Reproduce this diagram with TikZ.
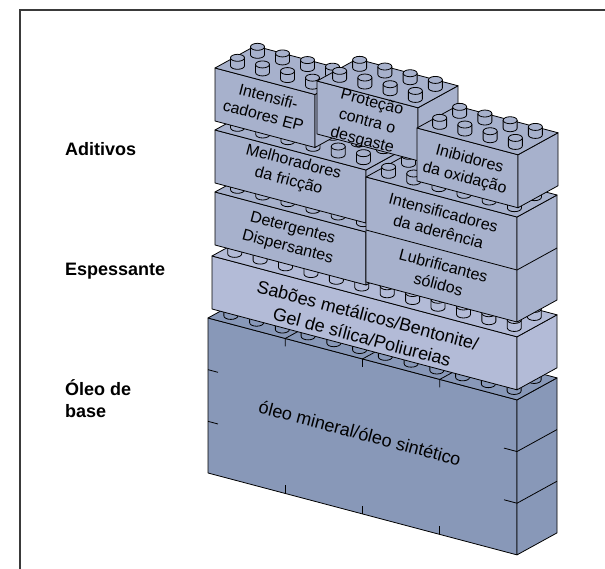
\documentclass[tikz,border=0pt]{standalone}
\usepackage{fontspec}
\setmainfont{Liberation Sans}
\definecolor{addc}{HTML}{A7B1CC}
\definecolor{espc}{HTML}{B3BBD7}
\definecolor{basec}{HTML}{8898B8}
\definecolor{framec}{HTML}{3A3A3A}
\newcommand\slp{0.265}
\newcommand\ddx{40}
\newcommand\ddy{-22}
\tikzset{
  brick/.style={draw=black, line width=0.8pt, line join=round},
  lbl/.style={font=\fontsize{16}{19.5}\selectfont, align=center, rotate=-14.8, inner sep=0pt},
  biglbl/.style={font=\fontsize{18}{22.5}\selectfont, align=center, rotate=-14.8, inner sep=0pt},
  sidelbl/.style={font=\bfseries\fontsize{18}{22}\selectfont, align=left, anchor=west, inner sep=0pt}
}
% brick: x0, y0 (front top left), width, height, colour
\newcommand\lgbrick[5]{%
  \pgfmathsetmacro\bxa{#1}%
  \pgfmathsetmacro\bya{#2}%
  \pgfmathsetmacro\bxb{#1+#3}%
  \pgfmathsetmacro\byb{#2+#3*\slp}%
  \pgfmathsetmacro\byc{#2+#4}%
  \pgfmathsetmacro\byd{#2+#3*\slp+#4}%
  \filldraw[brick,fill=#5] (\bxa,\bya) -- (\bxb,\byb) -- (\bxb,\byd) -- (\bxa,\byc) -- cycle;
  \filldraw[brick,fill=#5] (\bxb,\byb) -- ++(\ddx,\ddy) -- ++(0,#4) -- (\bxb,\byd) -- cycle;
  \filldraw[brick,fill=#5] (\bxa,\bya) -- ++(\ddx,\ddy) -- ++(#3,#3*\slp) -- (\bxb,\byb) -- cycle;
}
\newcommand\lgstud[3]{%
  \filldraw[brick,fill=#3] (#1-7,#2-8) -- (#1-7,#2) arc[start angle=180,end angle=360,x radius=7pt,y radius=3.5pt] -- (#1+7,#2-8) -- cycle;
  \filldraw[brick,fill=#3] (#1,#2-8) ellipse[x radius=7pt,y radius=3.5pt];
}
% studs: x0, y0, width, number, colour
\newcommand\lgstuds[5]{%
  \pgfmathsetmacro\lgp{#3/#4}%
  \pgfmathtruncatemacro\lgn{#4-1}%
  \foreach \rr in {1,0}{%
    \foreach \ii in {0,...,\lgn}{%
      \pgfmathsetmacro\lgcx{#1+\lgp*(\ii+0.5)+(\rr+0.5)*20}%
      \pgfmathsetmacro\lgcy{#2+\lgp*(\ii+0.5)*\slp-(\rr+0.5)*11}%
      \lgstud{\lgcx}{\lgcy}{#5}%
    }%
  }%
}
\begin{document}
\begin{tikzpicture}[x=1pt,y=-1pt]
\useasboundingbox (0,0) rectangle (605,569);
% frame
\draw[framec, line width=1.6pt] (20,569) -- (20,10) -- (605,10);

% base block
\lgbrick{208}{318}{309}{155}{basec}
\foreach \k in {1,2,3}{
  \pgfmathsetmacro\tx{208+309*\k/4}
  \pgfmathsetmacro\ty{318+309*\k/4*\slp}
  \draw[brick] (\tx,\ty+8) -- (\tx,\ty) -- ++(40,-22);
  \draw[brick] (\tx,\ty+155) -- (\tx,\ty+147);
}
\foreach \k in {1,2}{
  \pgfmathsetmacro\ty{318+155*\k/3}
  \draw[brick] (208,\ty) -- (218,\ty+2.65);
  \pgfmathsetmacro\tyr{318+309*\slp+155*\k/3}
  \draw[brick] (504,\tyr-3.45) -- (517,\tyr) -- ++(40,-22);
}
\lgstuds{208}{318}{309}{12}{basec}

% thickener
\lgbrick{212}{256}{305}{53}{espc}
\lgstuds{212}{256}{305}{12}{espc}

% additives, lower layer
\lgbrick{215}{192}{151}{53}{addc}
\lgstuds{215}{192}{151}{6}{addc}
\lgbrick{215}{130}{151}{53}{addc}
\lgbrick{366}{177}{151}{105}{addc}
\draw[brick] (366,230) -- (517,270) -- ++(40,-22);
\lgstuds{215}{130}{151}{6}{addc}
\lgstuds{366}{177}{151}{6}{addc}

% additives, top layer
\lgbrick{215}{68}{100}{53}{addc}
\lgstuds{215}{68}{100}{4}{addc}
\lgbrick{317}{81}{101}{53}{addc}
\lgstuds{317}{81}{101}{4}{addc}
\lgbrick{417}{128}{101}{53}{addc}
\lgstuds{417}{128}{101}{4}{addc}

% labels on bricks
\node[lbl] (iep) at (266,106) {Intensifi-\\cadores EP};
\node[lbl] (prot) at (367,122) {Proteção\\contra o\\desgaste};
\node[lbl] (inib) at (467,169) {Inibidores\\da oxidação};
\node[lbl] (melh) at (291,172) {Melhoradores\\da fricção};
\node[lbl] (ader) at (441,222) {Intensificadores\\da aderência};
\node[lbl] (lubr) at (441,275) {Lubrificantes\\sólidos};
\node[lbl] (deter) at (290,238) {Detergentes\\Dispersantes};
\node[biglbl] (espt) at (365,326) {Sabões metálicos/Bentonite/\\Gel de sílica/Poliureias};
\node[biglbl] (oleo) at (360,433) {óleo mineral/óleo sintético};

% side labels
\node[sidelbl] (adit) at (65,149) {Aditivos};
\node[sidelbl] (esp) at (65,271) {Espessante};
\node[sidelbl] (base) at (65,399) {Óleo de\\base};
\end{tikzpicture}
\end{document}
